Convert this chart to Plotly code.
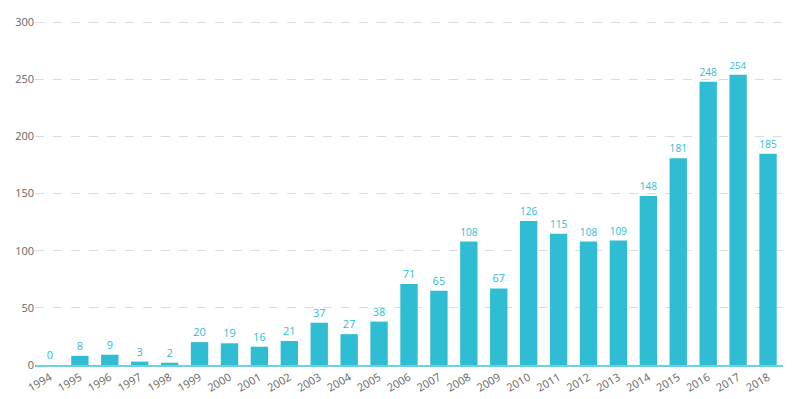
import plotly.graph_objects as go

years = [str(y) for y in range(1994, 2019)]
counts = [0, 8, 9, 3, 2, 20, 19, 16, 21, 37, 27, 38, 71, 65, 108, 67, 126, 115, 108, 109, 148, 181, 248, 254, 185]
y_ticks = [0, 50, 100, 150, 200, 250, 300]

bar_color = "#2FBDD4"

fig = go.Figure(go.Bar(
    x=years, y=counts,
    marker=dict(color=bar_color, line=dict(width=0)),
    text=[str(v) for v in counts],
    textposition="outside",
    textfont=dict(color=bar_color, size=11, family="Open Sans"),
    cliponaxis=False,
))

fig.update_layout(
    width=800, height=399,
    margin=dict(l=35, r=17, t=20, b=34),
    plot_bgcolor="white", paper_bgcolor="white",
    bargap=0.42,
    showlegend=False,
    font=dict(family="Open Sans", size=11, color="#666"),
    xaxis=dict(
        type="category", tickangle=-30, showgrid=False,
        showline=True, linecolor="#6fd0dd", linewidth=2,
        ticks="", tickfont=dict(size=11, color="#666"),
        automargin=False,
    ),
    yaxis=dict(
        range=[0, 302], tickvals=y_ticks, showgrid=True,
        gridcolor="#dcdcdc", griddash="dash", gridwidth=1,
        zeroline=False, showline=False, ticks="",
        tickfont=dict(size=11, color="#666"),
        automargin=False,
    ),
)

fig.write_html(
    "out.html",
    config={"displayModeBar": False},
    post_script="document.body.style.margin='0';document.body.style.overflow='hidden';",
)
